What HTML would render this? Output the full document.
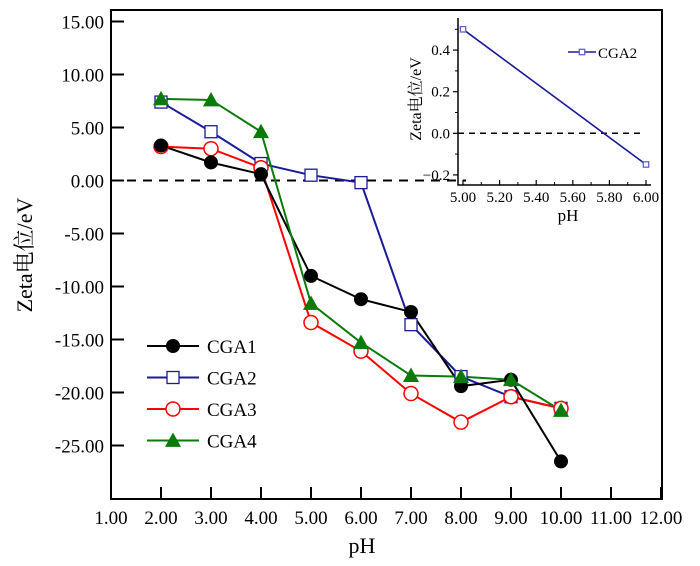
<!DOCTYPE html>
<html><head><meta charset="utf-8"><style>
body{margin:0;background:#fff;}
svg text{font-family:"Liberation Serif","Noto Serif CJK SC",serif;fill:#000;}
</style></head><body>
<svg id="chart" width="700" height="561" xmlns="http://www.w3.org/2000/svg"></svg>
<script>
const categories=[2,3,4,5,6,7,8,9,10];
const cga1=[3.3,1.7,0.6,-9.0,-11.2,-12.4,-19.4,-18.8,-26.5];
const cga2=[7.4,4.6,1.6,0.5,-0.2,-13.6,-18.5,-20.4,-21.5];
const cga3=[3.2,3.0,1.2,-13.4,-16.1,-20.1,-22.8,-20.4,-21.5];
const cga4=[7.7,7.6,4.6,-11.6,-15.3,-18.4,-18.5,-18.8,-21.7];
const xTicks=[1,2,3,4,5,6,7,8,9,10,11,12];
const yTicks=[15,10,5,0,-5,-10,-15,-20,-25];
const insetX=[5.0,6.0];
const insetY=[0.50,-0.15];
const insetXTicks=[5.0,5.2,5.4,5.6,5.8,6.0];
const insetYTicks=[0.4,0.2,0.0,-0.2];

const NS="http://www.w3.org/2000/svg";
const svg=document.getElementById('chart');
function mk(t,a,p){const e=document.createElementNS(NS,t);for(const k in a)e.setAttribute(k,a[k]);(p||svg).appendChild(e);return e;}
const X=v=>111+(v-1)*50;
const Y=v=>180.5-v*10.6;
const IX=v=>463+(v-5)*183;
const IY=v=>133.3-v*208;

let fr=mk('rect',{x:111,y:10,width:551,height:489,fill:'none',stroke:'#000','stroke-width':2});


xTicks.forEach(v=>{
  const t=mk('line',{x1:X(v),x2:X(v),y1:499,y2:487,stroke:'#000','stroke-width':2});
  
  
  const l=mk('text',{x:X(v),y:524,'text-anchor':'middle','font-size':19});
  l.textContent=v.toFixed(2);
  
  
});
yTicks.forEach(v=>{
  const t=mk('line',{x1:111,x2:124,y1:Y(v),y2:Y(v),stroke:'#000','stroke-width':2});
  
  
  const l=mk('text',{x:104,y:Y(v)+7,'text-anchor':'end','font-size':19});
  l.textContent=v.toFixed(2);
  
  
});
let xt=mk('text',{x:362,y:553,'text-anchor':'middle','font-size':22});xt.textContent='pH';


let yt=mk('text',{x:0,y:0,'text-anchor':'middle','font-size':22,transform:'translate(32,255) rotate(-90)'});yt.textContent='Zeta电位/eV';


let zl=mk('line',{x1:X(1),x2:X(8.1),y1:Y(0),y2:Y(0),stroke:'#000','stroke-width':2,'stroke-dasharray':'9,7'});



function marker(type,color,cx,cy,name,scale){
  scale=scale||1;let m;
  if(type==='circle')m=mk('circle',{cx:cx,cy:cy,r:7*scale,fill:'#000'});
  else if(type==='ocircle')m=mk('circle',{cx:cx,cy:cy,r:7*scale,fill:'#fff',stroke:color,'stroke-width':1.5});
  else if(type==='square'){const s=12*scale;m=mk('rect',{x:cx-s/2,y:cy-s/2,width:s,height:s,fill:'#fff',stroke:color,'stroke-width':1.3});}
  else {const s=8*scale;m=mk('polygon',{points:`${cx},${cy-s} ${cx+s},${cy+s*0.8} ${cx-s},${cy+s*0.8}`,fill:'#0a7a0a'});}
  
  
}
const series=[
  {d:cga2,c:'#1a1a9a',t:'square',n:'CGA2'},
  {d:cga3,c:'#ff0000',t:'ocircle',n:'CGA3'},
  {d:cga1,c:'#000',t:'circle',n:'CGA1'},
  {d:cga4,c:'#0a7a0a',t:'tri',n:'CGA4'}];
series.forEach(s=>{
  const pts=categories.map((c,i)=>X(c)+','+Y(s.d[i])).join(' ');
  const p=mk('polyline',{points:pts,fill:'none',stroke:s.c,'stroke-width':2});
  
  
});
series.forEach(s=>categories.forEach((c,i)=>marker(s.t,s.c,X(c),Y(s.d[i]),'point-'+s.n.toLowerCase())));

const leg=[{c:'#000',t:'circle',n:'CGA1'},{c:'#1a1a9a',t:'square',n:'CGA2'},{c:'#ff0000',t:'ocircle',n:'CGA3'},{c:'#0a7a0a',t:'tri',n:'CGA4'}];
leg.forEach((s,i)=>{
  const y=346+i*31.5;
  const l=mk('line',{x1:147,x2:199,y1:y,y2:y,stroke:s.c,'stroke-width':2});
  
  
  marker(s.t,s.c,173,y,'legend-marker');
  const tx=mk('text',{x:207,y:y+7,'font-size':19});tx.textContent=s.n;
  
  
});

let ia=mk('polyline',{points:`458,18 458,185 651,185`,fill:'none',stroke:'#000','stroke-width':1.5});


insetXTicks.forEach((v,i)=>{
  const t=mk('line',{x1:IX(v),x2:IX(v),y1:185,y2:180,stroke:'#000','stroke-width':1.2});
  
  
  if(i<insetXTicks.length-1){const m=mk('line',{x1:IX(v+0.1),x2:IX(v+0.1),y1:185,y2:182,stroke:'#000','stroke-width':1});
  
  }
  const l=mk('text',{x:IX(v),y:202,'text-anchor':'middle','font-size':15});l.textContent=v.toFixed(2);
  
  
});
insetYTicks.forEach(v=>{
  const t=mk('line',{x1:458,x2:453,y1:IY(v),y2:IY(v),stroke:'#000','stroke-width':1.2});
  
  
  const m=mk('line',{x1:458,x2:455,y1:IY(v+0.1),y2:IY(v+0.1),stroke:'#000','stroke-width':1});
  
  
  const l=mk('text',{x:450,y:IY(v)+5,'text-anchor':'end','font-size':15});l.textContent=v.toFixed(1).replace('-','−');
  
  
});
let ixt=mk('text',{x:568,y:221,'text-anchor':'middle','font-size':17});ixt.textContent='pH';


let iyt=mk('text',{x:0,y:0,'text-anchor':'middle','font-size':16,transform:'translate(421,99) rotate(-90)'});iyt.textContent='Zeta电位/eV';


let iz=mk('line',{x1:458,x2:642,y1:IY(0),y2:IY(0),stroke:'#000','stroke-width':1.5,'stroke-dasharray':'6,5'});


let il=mk('polyline',{points:insetX.map((x,i)=>IX(x)+','+IY(insetY[i])).join(' '),fill:'none',stroke:'#1a1a9a','stroke-width':1.6});


insetX.forEach((x,i)=>marker('square','#6060d0',IX(x),IY(insetY[i]),'inset-point-cga2',0.45));
let ill=mk('line',{x1:568,x2:596,y1:52,y2:52,stroke:'#1a1a9a','stroke-width':1.6});


marker('square','#6060d0',582,52,'inset-legend-marker',0.45);
let ilt=mk('text',{x:598,y:58,'font-size':15});ilt.textContent='CGA2';


</script>
</body></html>
